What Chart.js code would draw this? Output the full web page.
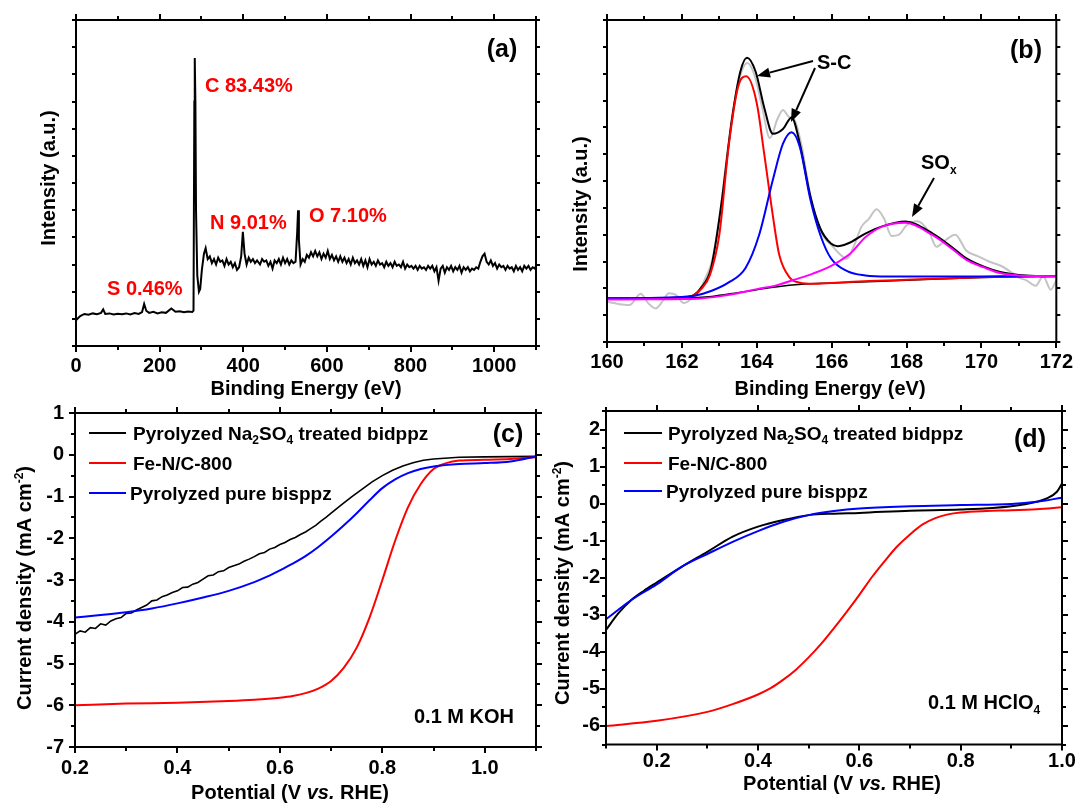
<!DOCTYPE html>
<html><head><meta charset="utf-8">
<script src="https://cdn.jsdelivr.net/npm/chart.js@4.4.0/dist/chart.umd.min.js"></script>
<style>
html,body{margin:0;padding:0;background:#fff;}
#wrap{position:relative;width:1081px;height:803px;overflow:hidden;background:#fff;}
canvas{position:absolute;left:0;top:0;}
</style></head><body><div id="wrap">
<canvas id="pa" width="1081" height="803"></canvas>
<canvas id="pb" width="1081" height="803"></canvas>
<canvas id="pc" width="1081" height="803"></canvas>
<canvas id="pd" width="1081" height="803"></canvas>
</div>
<script>
// ---------- (a) XPS survey ----------
const surveyE = [0,10,20,30,40,50,60,65,70,80,90,100,110,120,130,140,150,158,163,168,175,185,195,205,215,228,238,248,258,268,278,281,283,284,285.5,287,290,294,297,301,306,310,315,320,325,330,335,340,345,350,355,360,365,370,375,380,385,390,395,399,403,408,413,418,423,428,433,440,445,450,455,460,465,470,475,480,485,490,495,500,505,510,515,520,525,529,531,533,537,542,547,552,557,562,567,572,577,582,587,592,597,602,607,612,617,622,627,632,637,642,647,652,657,662,667,672,677,682,687,692,697,702,707,712,717,722,727,732,737,742,747,752,757,762,767,772,777,782,787,792,797,802,807,812,817,822,827,832,837,842,847,852,857,862,867,872,877,882,887,892,897,902,907,912,917,922,927,932,937,942,947,952,957,962,967,972,977,982,987,992,997,1002,1007,1012,1017,1022,1027,1032,1037,1042,1047,1052,1057,1062,1067,1072,1077,1082,1087,1092,1097,1100];
const surveyI = [0.95,1.10,1.18,1.15,1.20,1.17,1.22,1.35,1.18,1.20,1.16,1.19,1.17,1.20,1.16,1.21,1.18,1.25,1.55,1.30,1.22,1.26,1.20,1.24,1.22,1.38,1.26,1.28,1.24,1.27,1.25,1.30,9.0,10.6,9.0,5.0,2.6,2.0,2.1,2.8,3.4,3.6,3.2,3.3,3.05,3.2,3.0,3.25,3.1,3.15,2.95,3.2,3.0,3.1,2.9,3.05,2.8,2.9,3.3,4.2,3.4,3.0,3.25,3.1,3.2,3.05,3.15,3.0,3.2,3.1,3.15,2.95,3.1,2.85,3.15,3.05,3.2,3.0,3.25,3.05,3.2,3.0,3.15,3.05,3.1,4.2,5.0,3.9,3.0,3.2,3.1,3.35,3.25,3.45,3.3,3.5,3.3,3.45,3.2,3.4,3.25,3.5,3.2,3.35,3.15,3.3,3.1,3.3,3.1,3.25,3.05,3.2,3.0,3.25,3.05,3.15,3.0,3.2,2.95,3.15,2.9,3.2,3.0,3.1,2.95,3.15,3.0,3.05,2.9,3.1,2.95,3.05,2.9,3.1,2.95,3.0,2.9,3.1,2.85,3.0,2.9,2.95,2.85,2.95,2.8,2.95,2.85,2.9,2.8,2.95,2.85,2.95,2.75,2.9,2.4,2.85,2.95,2.7,2.9,2.8,2.95,2.75,2.9,2.8,2.95,2.7,2.9,2.8,2.9,2.75,2.85,2.8,2.9,2.85,3.1,3.3,3.4,3.1,3.0,3.15,2.95,3.05,2.85,3.0,2.9,2.95,2.8,2.95,2.85,2.9,2.75,2.95,2.8,2.9,2.75,2.95,2.85,2.95,2.8,2.9,2.85,2.95];

// ---------- (b) S 2p high resolution ----------
const s2pRawE = [160,160.3,160.6,160.9,161.1,161.3,161.5,161.65,161.85,162.05,162.25,162.45,162.6,162.8,163.0,163.2,163.4,163.6,163.75,163.95,164.15,164.35,164.55,164.7,164.85,165.0,165.2,165.4,165.6,165.8,166.0,166.2,166.4,166.6,166.8,167.0,167.2,167.4,167.6,167.8,168.0,168.3,168.6,168.8,169.0,169.3,169.6,169.9,170.2,170.5,170.8,171.0,171.2,171.45,171.65,171.85,172];
const s2pRawI = [1.5,1.42,1.38,1.8,1.45,1.25,1.55,1.82,1.75,1.45,1.6,1.85,2.3,3.0,4.6,6.9,8.9,10.1,10.4,9.9,8.7,7.6,8.3,8.65,8.4,8.3,7.3,5.7,4.5,3.9,3.6,3.3,3.1,3.6,4.3,4.6,4.95,4.6,3.95,4.0,4.35,4.5,4.1,3.55,3.75,4.0,3.4,3.2,3.0,2.85,2.6,2.4,2.3,2.1,2.45,1.95,2.3];
const envE = [160,161,162,162.33,162.5,162.78,163.06,163.33,163.56,163.74,163.97,164.2,164.43,164.7,164.93,165.15,165.43,165.7,165.98,166.16,166.43,166.9,167.35,167.97,168.7,169.2,169.6,170.1,170.5,171.0,171.5,172];
const envI = [1.62,1.63,1.66,1.76,2.0,2.76,5.2,8.24,10.07,10.59,10.07,8.73,7.76,7.94,8.37,7.39,5.44,4.22,3.67,3.57,3.67,4.04,4.31,4.49,4.04,3.55,3.12,2.79,2.61,2.5,2.46,2.45];
const bgE = [160,162,162.8,163.5,164.5,165.2,166,168,170,172];
const bgI = [1.62,1.64,1.7,1.84,2.05,2.15,2.2,2.3,2.4,2.46];
const scE1 = [160,161,162,162.3,162.5,162.75,163.0,163.25,163.5,163.72,164.0,164.2,164.43,164.6,164.88,165.15,165.5,166,167,168,169,170,171,172];
const scI1 = [1.62,1.63,1.66,1.74,1.95,2.5,4.0,7.3,9.5,9.9,8.9,7.0,4.7,3.25,2.4,2.21,2.17,2.2,2.27,2.32,2.37,2.41,2.44,2.46];
const scE2 = [160,161,162,162.33,162.78,163.24,163.7,164.06,164.43,164.7,164.93,165.15,165.43,165.7,165.98,166.43,166.9,167.5,168.5,169.5,170.5,171.5,172];
const scI2 = [1.63,1.64,1.68,1.72,1.9,2.21,2.76,3.98,6.05,7.39,7.82,7.27,5.32,3.98,3.12,2.63,2.48,2.44,2.44,2.44,2.45,2.45,2.45];
const soxE = [160,161,162,162.5,163,163.5,164,164.5,165,165.5,166,166.5,166.9,167.35,167.97,168.7,169.2,169.6,170.1,170.5,171.0,171.5,172];
const soxI = [1.58,1.59,1.6,1.62,1.7,1.82,1.97,2.1,2.32,2.55,2.85,3.3,3.9,4.3,4.44,3.98,3.49,3.06,2.76,2.57,2.48,2.46,2.45];

// ---------- (c) ORR in 0.1 M KOH ----------
const kohBlackV = [0.20,0.21,0.22,0.23,0.24,0.25,0.26,0.27,0.28,0.29,0.30,0.31,0.32,0.33,0.34,0.35,0.36,0.37,0.38,0.39,0.40,0.41,0.42,0.43,0.44,0.45,0.46,0.47,0.48,0.49,0.50,0.51,0.52,0.53,0.54,0.55,0.56,0.57,0.58,0.59,0.60,0.61,0.62,0.63,0.64,0.65,0.66,0.67,0.68,0.69,0.70,0.72,0.74,0.76,0.78,0.80,0.82,0.84,0.86,0.88,0.90,0.95,1.00,1.05,1.10];
const kohBlackJ = [-4.30,-4.22,-4.25,-4.14,-4.16,-4.05,-4.08,-3.98,-3.93,-3.90,-3.80,-3.79,-3.72,-3.66,-3.60,-3.50,-3.48,-3.40,-3.36,-3.30,-3.26,-3.18,-3.17,-3.10,-3.06,-2.98,-2.90,-2.88,-2.80,-2.78,-2.70,-2.66,-2.62,-2.55,-2.50,-2.44,-2.37,-2.34,-2.26,-2.22,-2.15,-2.10,-2.03,-1.98,-1.91,-1.85,-1.77,-1.69,-1.59,-1.50,-1.40,-1.20,-1.01,-0.83,-0.65,-0.50,-0.37,-0.27,-0.19,-0.13,-0.10,-0.06,-0.05,-0.045,-0.04];
const kohRedV = [0.2,0.3,0.4,0.5,0.55,0.6,0.625,0.65,0.675,0.7,0.725,0.75,0.775,0.8,0.825,0.85,0.875,0.9,0.925,0.95,1.0,1.05,1.1];
const kohRedJ = [-6.0,-5.96,-5.94,-5.9,-5.87,-5.82,-5.78,-5.71,-5.6,-5.42,-5.1,-4.62,-3.9,-3.0,-2.06,-1.26,-0.7,-0.34,-0.2,-0.14,-0.12,-0.1,-0.06];
const kohBlueV = [0.2,0.25,0.3,0.35,0.4,0.45,0.5,0.55,0.575,0.6,0.625,0.65,0.675,0.7,0.725,0.75,0.775,0.8,0.825,0.85,0.875,0.9,0.95,1.0,1.05,1.1];
const kohBlueJ = [-3.9,-3.84,-3.77,-3.68,-3.56,-3.42,-3.26,-3.05,-2.92,-2.77,-2.61,-2.43,-2.21,-1.96,-1.69,-1.4,-1.09,-0.8,-0.59,-0.44,-0.34,-0.28,-0.22,-0.2,-0.16,-0.04];

// ---------- (d) ORR in 0.1 M HClO4 ----------
const acidBlackV = [0.1,0.125,0.15,0.175,0.2,0.25,0.3,0.35,0.4,0.45,0.5,0.55,0.6,0.7,0.8,0.9,0.95,0.97,0.99,1.0];
const acidBlackJ = [-3.41,-2.95,-2.6,-2.35,-2.13,-1.7,-1.3,-0.89,-0.62,-0.44,-0.31,-0.27,-0.25,-0.19,-0.16,-0.07,0.05,0.14,0.32,0.54];
const acidRedV = [0.1,0.2,0.3,0.35,0.4,0.425,0.45,0.475,0.5,0.525,0.55,0.575,0.6,0.625,0.65,0.675,0.7,0.725,0.75,0.775,0.8,0.85,0.9,0.95,1.0];
const acidRedJ = [-6.0,-5.86,-5.62,-5.41,-5.15,-4.98,-4.75,-4.48,-4.15,-3.78,-3.36,-2.92,-2.46,-1.98,-1.55,-1.15,-0.83,-0.56,-0.39,-0.29,-0.24,-0.2,-0.18,-0.15,-0.1];
const acidBlueV = [0.1,0.15,0.2,0.25,0.3,0.35,0.4,0.45,0.5,0.55,0.6,0.7,0.8,0.9,0.95,1.0];
const acidBlueJ = [-3.12,-2.6,-2.18,-1.7,-1.36,-1.03,-0.74,-0.49,-0.31,-0.2,-0.13,-0.07,-0.04,-0.01,0.05,0.16];

const legendNames = ['Pyrolyzed Na2SO4 treated bidppz','Fe-N/C-800','Pyrolyzed pure bisppz'];

// ---------------- drawing helpers ----------------
const W = 1081, H = 803;
const FAMILY = '"Liberation Sans", Arial, Helvetica, sans-serif';
function fontStr(size, italic){ return (italic ? 'italic ' : '') + 'bold ' + size + 'px ' + FAMILY; }
function drawRich(ctx, o){
  const parts = []; let w = 0;
  o.segs.forEach(([s, m]) => {
    const small = (m === 'sub' || m === 'sup');
    const sz = small ? Math.round(o.size * 0.62) : o.size;
    ctx.font = fontStr(sz, m === 'i');
    const sw = ctx.measureText(s).width;
    parts.push({s, sz, m, sw}); w += sw;
  });
  ctx.save();
  ctx.translate(o.x, o.y);
  if (o.rot) ctx.rotate(o.rot);
  let x0 = o.align === 'center' ? -w / 2 : (o.align === 'right' ? -w : 0);
  ctx.fillStyle = o.color || '#000';
  ctx.textBaseline = 'alphabetic'; ctx.textAlign = 'left';
  const base = 0.36 * o.size;
  parts.forEach(p => {
    ctx.font = fontStr(p.sz, p.m === 'i');
    const dy = p.m === 'sub' ? 0.24 * o.size : (p.m === 'sup' ? -0.42 * o.size : 0);
    ctx.fillText(p.s, x0, base + dy);
    x0 += p.sw;
  });
  ctx.restore();
}
function drawArrow(ctx, a){
  const [x1, y1, x2, y2] = a;
  const ang = Math.atan2(y2 - y1, x2 - x1), L = 13, Wd = 5;
  const bx = x2 - L * Math.cos(ang), by = y2 - L * Math.sin(ang);
  ctx.strokeStyle = '#000'; ctx.fillStyle = '#000'; ctx.lineWidth = 2;
  ctx.beginPath(); ctx.moveTo(x1, y1); ctx.lineTo(bx, by); ctx.stroke();
  ctx.beginPath(); ctx.moveTo(x2, y2);
  ctx.lineTo(bx + Wd * Math.sin(ang), by - Wd * Math.cos(ang));
  ctx.lineTo(bx - Wd * Math.sin(ang), by + Wd * Math.cos(ang));
  ctx.closePath(); ctx.fill();
}
function legendSegs(name){
  if (name.indexOf('Na2SO4') >= 0) return [['Pyrolyzed Na',''],['2','sub'],['SO',''],['4','sub'],[' treated bidppz','']];
  return [[name,'']];
}

const DECOR = {};
const decorPlugin = {
  id: 'decor',
  afterDatasetsDraw(chart){
    const cfg = DECOR[chart.canvas.id]; if (!cfg) return;
    const ctx = chart.ctx, a = chart.chartArea;
    const xs = chart.scales.x, ys = chart.scales.y;
    ctx.save();
    ctx.strokeStyle = '#000'; ctx.lineWidth = 2; ctx.lineCap = 'butt';
    ctx.beginPath();
    xs.ticks.forEach(t => {
      const p = Math.round(xs.getPixelForValue(t.value));
      const len = t.label ? 6 : 4;
      ctx.moveTo(p, a.bottom); ctx.lineTo(p, a.bottom + len);
      ctx.moveTo(p, a.top); ctx.lineTo(p, a.top - len);
    });
    ys.ticks.forEach(t => {
      const p = Math.round(ys.getPixelForValue(t.value));
      const len = t.label ? 6 : 4;
      ctx.moveTo(a.left, p); ctx.lineTo(a.left - len, p);
      ctx.moveTo(a.right, p); ctx.lineTo(a.right + len, p);
    });
    ctx.stroke();
    ctx.strokeRect(a.left, a.top, a.right - a.left, a.bottom - a.top);
    (cfg.legend || []).forEach(l => {
      ctx.strokeStyle = l.color; ctx.lineWidth = 2;
      ctx.beginPath(); ctx.moveTo(l.x1, l.y); ctx.lineTo(l.x2, l.y); ctx.stroke();
      drawRich(ctx, {x: l.tx, y: l.y, size: 19, segs: legendSegs(l.name)});
    });
    (cfg.arrows || []).forEach(ar => drawArrow(ctx, ar));
    (cfg.texts || []).forEach(t => drawRich(ctx, t));
    ctx.restore();
  }
};

function ds(xArr, yArr, color, width, smooth){
  return {
    data: xArr.map((v, i) => ({x: v, y: yArr[i]})),
    borderColor: color, borderWidth: width, pointRadius: 0, fill: false,
    tension: smooth ? 0.4 : 0, cubicInterpolationMode: smooth ? 'monotone' : 'default'
  };
}
function tickFont(){ return {family: FAMILY, size: 20, weight: 'bold'}; }
function build(id, area, sets, xc, yc){
  const YW = 60, XH = 50;
  return new Chart(document.getElementById(id), {
    type: 'line',
    data: {datasets: sets},
    options: {
      responsive: false, animation: false, events: [], devicePixelRatio: 1,
      layout: {padding: {left: area.l - YW, top: area.t, right: W - area.r, bottom: H - area.b - XH}},
      plugins: {legend: {display: false}, tooltip: {enabled: false}},
      scales: {
        x: {type: 'linear', position: 'bottom', min: xc.min, max: xc.max,
            afterFit: s => { s.height = XH; },
            grid: {display: false, drawTicks: false}, border: {display: false},
            ticks: {stepSize: xc.step, autoSkip: false, maxRotation: 0, minRotation: 0,
                    padding: xc.pad, color: '#000', font: tickFont(), callback: xc.fmt}},
        y: {type: 'linear', position: 'left', min: yc.min, max: yc.max,
            afterFit: s => { s.width = YW; },
            grid: {display: false, drawTicks: false}, border: {display: false},
            ticks: {stepSize: yc.step, autoSkip: false, padding: yc.pad, color: '#000',
                    font: tickFont(), callback: yc.fmt}}
      }
    },
    plugins: [decorPlugin]
  });
}

const ROT = -Math.PI / 2;
const RED = '#ff0000', BLUE = '#0000ff', PINK = '#ff00ff', GREY = '#c4c4c4';

// ----- (a)
DECOR.pa = {
  texts: [
    {x: 502, y: 48, size: 25, align: 'center', segs: [['(a)','']]},
    {x: 205, y: 85, size: 20, color: RED, segs: [['C 83.43%','']]},
    {x: 210, y: 222, size: 20, color: RED, segs: [['N 9.01%','']]},
    {x: 309, y: 215, size: 20, color: RED, segs: [['O 7.10%','']]},
    {x: 107, y: 288, size: 20, color: RED, segs: [['S 0.46%','']]},
    {x: 48, y: 178, size: 20, align: 'center', rot: ROT, segs: [['Intensity (a.u.)','']]},
    {x: 306, y: 388, size: 20, align: 'center', segs: [['Binding Energy (eV)','']]}
  ]
};
build('pa', {l: 76, t: 14, r: 536, b: 346},
  [ds(surveyE, surveyI, '#000', 2, false)],
  {min: 0, max: 1100, step: 100, pad: 8, fmt: v => (v % 200 === 0 && v <= 1000) ? String(v) : ''},
  {min: 0, max: 12, step: 1, pad: 8, fmt: () => ''});

// ----- (b)
DECOR.pb = {
  texts: [
    {x: 1026, y: 49, size: 25, align: 'center', segs: [['(b)','']]},
    {x: 817, y: 62, size: 20, segs: [['S-C','']]},
    {x: 921, y: 162, size: 20, segs: [['SO',''],['x','sub']]},
    {x: 580, y: 204, size: 20, align: 'center', rot: ROT, segs: [['Intensity (a.u.)','']]},
    {x: 830, y: 388, size: 20, align: 'center', segs: [['Binding Energy (eV)','']]}
  ],
  arrows: [[813, 61, 757, 76], [815, 68, 791, 122], [934, 178, 912, 217]]
};
build('pb', {l: 607, t: 16, r: 1062, b: 342},
  [ds(soxE, soxI, PINK, 2, true), ds(scE2, scI2, BLUE, 2, true), ds(scE1, scI1, RED, 2, true),
   ds(envE, envI, '#000', 2, true), ds(bgE, bgI, '#000', 1.5, true), ds(s2pRawE, s2pRawI, GREY, 2, true)],
  {min: 160, max: 172, step: 1, pad: 8, fmt: v => (v % 2 === 0) ? String(v) : ''},
  {min: 0, max: 12, step: 1, pad: 8, fmt: () => ''});

// ----- (c)
DECOR.pc = {
  legend: [
    {x1: 89, x2: 126, y: 433, color: '#000', tx: 133, name: legendNames[0]},
    {x1: 89, x2: 126, y: 463, color: RED, tx: 133, name: legendNames[1]},
    {x1: 89, x2: 126, y: 493, color: BLUE, tx: 130, name: legendNames[2]}
  ],
  texts: [
    {x: 508, y: 433, size: 25, align: 'center', segs: [['(c)','']]},
    {x: 414, y: 716, size: 20, segs: [['0.1 M KOH','']]},
    {x: 24, y: 588, size: 20, align: 'center', rot: ROT, segs: [['Current density (mA cm',''],['-2','sup'],[')','']]},
    {x: 290, y: 792, size: 20, align: 'center', segs: [['Potential (V ',''],['vs.','i'],[' RHE)','']]}
  ]
};
build('pc', {l: 75, t: 413, r: 536, b: 747},
  [ds(kohBlueV, kohBlueJ, BLUE, 2, true), ds(kohRedV, kohRedJ, RED, 2, true), ds(kohBlackV, kohBlackJ, '#000', 1.6, false)],
  {min: 0.2, max: 1.1, step: 0.1, pad: 9, fmt: v => (Math.round(v * 10) % 2 === 0) ? v.toFixed(1) : ''},
  {min: -7, max: 1, step: 0.5, pad: 11, fmt: v => (Math.abs(v - Math.round(v)) < 1e-6) ? String(Math.round(v)) : ''});

// ----- (d)
DECOR.pd = {
  legend: [
    {x1: 624, x2: 662, y: 433, color: '#000', tx: 668, name: legendNames[0]},
    {x1: 624, x2: 662, y: 463, color: RED, tx: 668, name: legendNames[1]},
    {x1: 624, x2: 662, y: 491, color: BLUE, tx: 666, name: legendNames[2]}
  ],
  texts: [
    {x: 1030, y: 438, size: 25, align: 'center', segs: [['(d)','']]},
    {x: 928, y: 702, size: 20, segs: [['0.1 M HClO',''],['4','sub']]},
    {x: 562, y: 583, size: 20, align: 'center', rot: ROT, segs: [['Current density (mA cm',''],['-2','sup'],[')','']]},
    {x: 842, y: 783, size: 20, align: 'center', segs: [['Potential (V ',''],['vs.','i'],[' RHE)','']]}
  ]
};
build('pd', {l: 606, t: 411, r: 1062, b: 744.5},
  [ds(acidBlueV, acidBlueJ, BLUE, 2, true), ds(acidRedV, acidRedJ, RED, 2, true), ds(acidBlackV, acidBlackJ, '#000', 2, true)],
  {min: 0.1, max: 1.0, step: 0.1, pad: 5, fmt: v => (Math.round(v * 10) % 2 === 0) ? v.toFixed(1) : ''},
  {min: -6.5, max: 2.5, step: 0.5, pad: 6, fmt: v => (Math.abs(v - Math.round(v)) < 1e-6) ? String(Math.round(v)) : ''});
</script>
</body></html>
